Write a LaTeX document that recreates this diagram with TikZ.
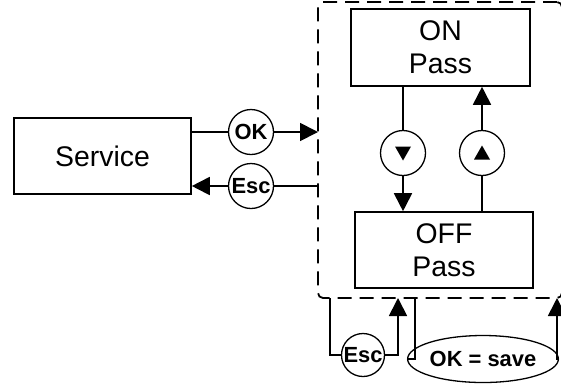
\documentclass[tikz,border=0pt]{standalone}
\usepackage{fontspec}
\setmainfont{Liberation Sans}
\usetikzlibrary{arrows.meta,shapes.geometric,calc}
\begin{document}
\begin{tikzpicture}[x=1bp,y=-1bp,
  box/.style={draw,line width=1.6bp,inner sep=0pt,align=center,font=\fontsize{28.5}{33}\selectfont},
  key/.style={draw,circle,line width=1.3bp,fill=white,inner sep=0pt,minimum size=45bp,font=\bfseries\fontsize{22}{22}\selectfont},
  keyell/.style={draw,ellipse,line width=1.3bp,fill=white,inner sep=0pt,minimum width=114bp,minimum height=47bp,font=\bfseries\fontsize{22}{22}\selectfont},
  grpbox/.style={draw,dash pattern=on 14bp off 8bp,line width=1.8bp,rounded corners=5bp,inner sep=0pt},
  conn/.style={line width=1.8bp},
  arr/.style={conn,-{Triangle[length=18bp,width=18bp]}},
  tri/.style={fill=black}]
\useasboundingbox (0,0) rectangle (561,386);
% group
\node[grpbox,minimum width=244bp,minimum height=296bp] (grp) at (440,150) {};
% boxes
\node[box,minimum width=177bp,minimum height=76bp] (service) at (102.5,156) {Service};
\node[box,minimum width=179bp,minimum height=77bp] (on) at (440.5,47.5) {ON\\Pass};
\node[box,minimum width=178bp,minimum height=76bp] (off) at (444,250) {OFF\\Pass};
% left keys
\node[key] (ok) at (251,132) {OK};
\node[key] (esc1) at (251,186) {Esc};
\coordinate (okend) at (318,132);
\coordinate (escstart) at (318,186);
\draw[conn] (service.east |- ok) -- (ok);
\draw[arr] (ok) -- (okend);
\draw[conn] (escstart) -- (esc1);
\draw[arr] (esc1) -- (service.east |- esc1);
% up/down keys
\node[key] (down) at (403,153) {};
\node[key] (up) at (482,153) {};
\fill[tri] ($(down)+(-8,-6.5)$) -- ($(down)+(8,-6.5)$) -- ($(down)+(0,7.5)$) -- cycle;
\fill[tri] ($(up)+(-8,6.5)$) -- ($(up)+(8,6.5)$) -- ($(up)+(0,-7.5)$) -- cycle;
\draw[conn] (on.south -| down) -- (down);
\draw[arr] (down) -- (off.north -| down);
\draw[conn] (off.north -| up) -- (up);
\draw[arr] (up) -- (on.south -| up);
% bottom keys
\node[key,minimum size=43bp] (esc2) at (363,355) {Esc};
\node[keyell] (save) at (483,359) {OK = save};
\coordinate (e2a) at (330,298);
\coordinate (e2b) at (398,298);
\coordinate (s1) at (415,298);
\coordinate (s2) at (557,298);
\draw[conn] (e2a) |- (esc2);
\draw[arr] (esc2) -| (e2b);
\draw[conn] (s1) |- (save.west);
\draw[arr] (save.east) -| (s2);
\end{tikzpicture}
\end{document}
